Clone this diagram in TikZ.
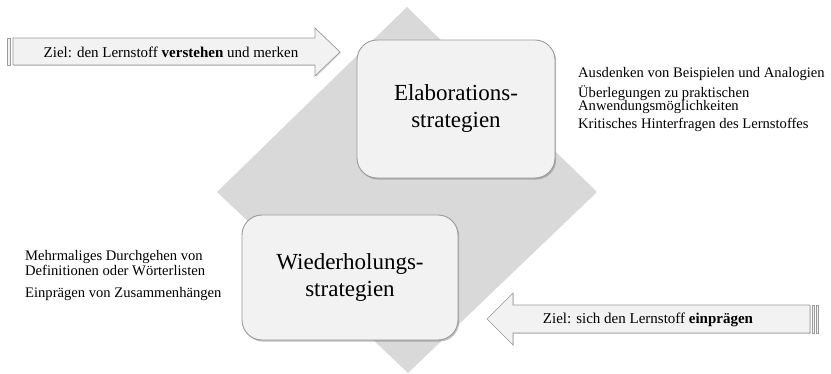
\documentclass[tikz,border=0pt]{standalone}
\usepackage{fontspec}
\setmainfont{Liberation Serif}
\usetikzlibrary{shadows}
\definecolor{boxfill}{HTML}{F2F2F2}
\definecolor{diamondfill}{HTML}{D9D9D9}
\definecolor{edge}{HTML}{9A9A9A}

\begin{document}
\begin{tikzpicture}[x=1pt,y=-1pt,
  strategybox/.style={draw=edge, line width=0.9pt, fill=boxfill, rounded corners=20pt,
    align=center, font=\fontsize{23}{27}\selectfont, inner sep=0pt,
    drop shadow={shadow xshift=1.2pt, shadow yshift=-1.6pt, opacity=0.5}},
  listitem/.style={anchor=base west, inner sep=0pt, font=\fontsize{14.6}{14.6}\selectfont},
  goalarrow/.style={draw=edge, line width=0.7pt, fill=boxfill,
    drop shadow={shadow xshift=0.8pt, shadow yshift=-1pt, opacity=0.3}},
  goaltext/.style={font=\fontsize{15}{15}\selectfont, inner sep=0pt}
]
\useasboundingbox (0,0) rectangle (831,374);

% background diamond
\fill[diamondfill] (407,7) -- (597,192) -- (408,373) -- (217,192) -- cycle;

% the two strategy boxes
\node[strategybox, minimum width=198pt, minimum height=138pt] (elab) at (456,109)
  {Elaborations-\\strategien};
\node[strategybox, minimum width=216pt, minimum height=125pt] (wdh) at (350,277.5)
  {Wiederholungs-\\strategien};

% upper goal arrow (striped tail on the left)
\draw[goalarrow] (7,38) rectangle (10,65);
\draw[goalarrow] (13,38) -- (315,38) -- (315,28) -- (340,52) -- (315,76) -- (315,65) -- (13,65) -- cycle;
\node[goaltext] (goalup) at (171,52) {Ziel: den Lernstoff \textbf{verstehen} und merken};

% lower goal arrow (striped tail on the right)
\draw[goalarrow] (812.5,305) rectangle (814.5,333);
\draw[goalarrow] (816.5,305) rectangle (818.5,333);
\draw[goalarrow] (810,305) -- (513,305) -- (513,293) -- (487,319) -- (513,345) -- (513,333) -- (810,333) -- cycle;
\node[goaltext] (goaldown) at (648,320) {Ziel: sich den Lernstoff \textbf{einprägen}};

% elaboration examples
\node[listitem] (e1) at (578,78) {Ausdenken von Beispielen und Analogien};
\node[listitem] (e2) at (578,97.5) {Überlegungen zu praktischen};
\node[listitem] (e3) at (578,111) {Anwendungsmöglichkeiten};
\node[listitem] (e4) at (578,129) {Kritisches Hinterfragen des Lernstoffes};

% repetition examples
\node[listitem] (w1) at (25,260.5) {Mehrmaliges Durchgehen von};
\node[listitem] (w2) at (25,275.5) {Definitionen oder Wörterlisten};
\node[listitem] (w3) at (25,298) {Einprägen von Zusammenhängen};
\end{tikzpicture}
\end{document}
